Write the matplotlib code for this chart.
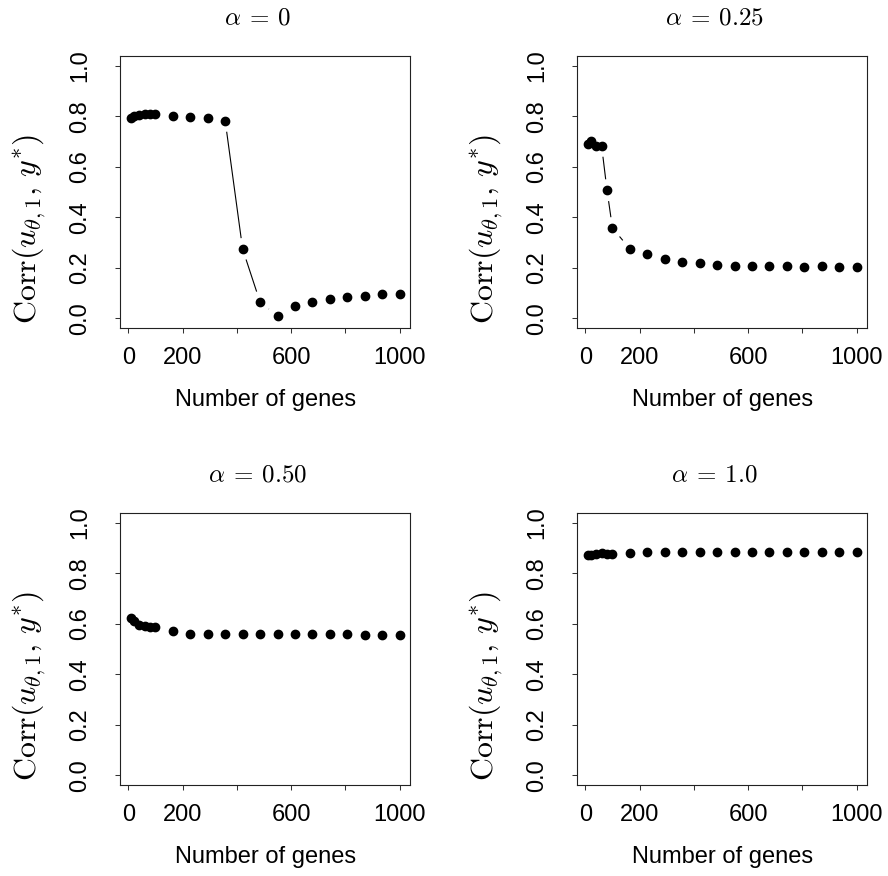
import numpy as np
import matplotlib
matplotlib.use('Agg')
import matplotlib.pyplot as plt

plt.rcParams['font.family'] = ['Liberation Sans', 'DejaVu Sans']
plt.rcParams['mathtext.fontset'] = 'cm'

# number of genes kept at each step
genes = [10, 20, 40, 60, 80, 100, 164.3, 228.6, 292.9, 357.1, 421.4, 485.7,
         550, 614.3, 678.6, 742.9, 807.1, 871.4, 935.7, 1000]

# correlation of the first component with y*, one series per alpha
corr_a0 = [0.793, 0.800, 0.807, 0.808, 0.808, 0.808, 0.800, 0.797, 0.793, 0.782,
           0.274, 0.064, 0.009, 0.049, 0.064, 0.076, 0.084, 0.087, 0.096, 0.096]
corr_a025 = [0.690, 0.702, 0.683, 0.683, 0.507, 0.357, 0.275, 0.254, 0.236, 0.223,
             0.219, 0.211, 0.207, 0.207, 0.207, 0.207, 0.203, 0.207, 0.203, 0.203]
corr_a050 = [0.621, 0.612, 0.596, 0.590, 0.586, 0.587, 0.571, 0.559, 0.559, 0.559,
             0.559, 0.559, 0.559, 0.559, 0.559, 0.559, 0.559, 0.555, 0.555, 0.555]
corr_a1 = [0.871, 0.873, 0.875, 0.879, 0.876, 0.876, 0.879, 0.884, 0.884, 0.884,
           0.884, 0.884, 0.884, 0.884, 0.884, 0.884, 0.884, 0.884, 0.884, 0.884]

titles = [r'$\alpha\:=\:0$', r'$\alpha\:=\:0.25$', r'$\alpha\:=\:0.50$', r'$\alpha\:=\:1.0$']
series = [corr_a0, corr_a025, corr_a050, corr_a1]

xticks = [0, 200, 400, 600, 800, 1000]
xticklabels = ['0', '200', '', '600', '', '1000']
yticks = [0.0, 0.2, 0.4, 0.6, 0.8, 1.0]
yticklabels = ['0.0', '0.2', '0.4', '0.6', '0.8', '1.0']


def gapped_line(ax, x, y, gap=11):
    # R type="b": segments stop short of each point, skipped if too short
    pts = ax.transData.transform(np.column_stack([x, y]))
    inv = ax.transData.inverted()
    for p0, p1 in zip(pts[:-1], pts[1:]):
        d = p1 - p0
        length = np.hypot(d[0], d[1])
        if length <= 2 * gap:
            continue
        u = d / length
        seg = inv.transform(np.array([p0 + u * gap, p1 - u * gap]))
        ax.plot(seg[:, 0], seg[:, 1], color='black', lw=0.8, solid_capstyle='butt')


fig = plt.figure(figsize=(8.88, 8.76), dpi=100)
W, H = 888, 876
boxes = [(120.3, 55.7), (577.3, 55.7), (120.3, 512.7), (577.3, 512.7)]
bw, bh = 290, 272.6

for (left, top), title, corr in zip(boxes, titles, series):
    ax = fig.add_axes([left / W, 1 - (top + bh) / H, bw / W, bh / H])
    ax.set_xlim(-29.6, 1039.6)
    ax.set_ylim(-0.04, 1.04)
    ax.plot(genes, corr, 'o', color='black', markersize=6, zorder=3)
    gapped_line(ax, genes, corr)

    ax.set_xticks(xticks)
    ax.set_xticklabels(xticklabels)
    ax.set_yticks(yticks)
    ax.set_yticklabels(yticklabels, rotation=90, va='center')
    ax.tick_params(direction='out', length=3.8, width=0.75, labelsize=17, color='#333333')
    ax.tick_params(axis='x', pad=10)
    ax.tick_params(axis='y', pad=17)
    for sp in ax.spines.values():
        sp.set_linewidth(0.8)
        sp.set_color('#222222')

    ax.set_xlabel('Number of genes', fontsize=17)
    ax.xaxis.set_label_coords(0.5, -72 / bh)
    ax.xaxis.label.set_va('center')
    ax.set_ylabel(r'$\mathrm{Corr}(u_{\theta,1},\,y^{*})$', fontsize=23)
    ax.yaxis.set_label_coords(-91 / bw, 0.364)
    ax.yaxis.label.set_va('center')

    ax.text(0.5 - 8 / bw, 1 + 38 / bh, title, transform=ax.transAxes,
            ha='center', va='center', fontsize=18)

fig.savefig('out.png', dpi=100)
